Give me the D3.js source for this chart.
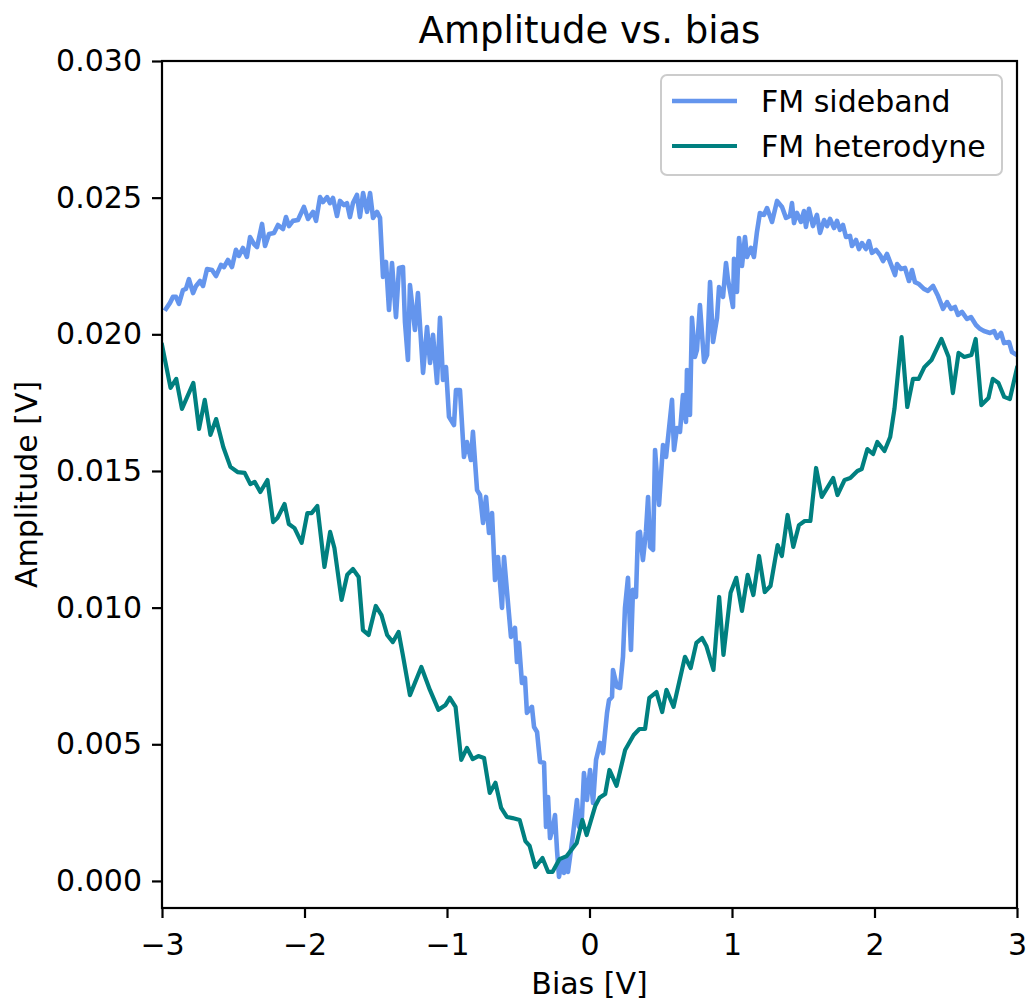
<!DOCTYPE html>
<html>
  <head>
    <meta charset="utf-8">
    <title>Amplitude vs. bias</title>
    <script src="https://d3js.org/d3.v7.min.js"></script>
    <style>
      body { margin: 0; background: #fff; }
      svg { display: block; }
      text { font-family: "DejaVu Sans", sans-serif; fill: #000; }
      .tick line { stroke: #000; stroke-width: 2.2px; }
      .line { fill: none; stroke-linejoin: round; stroke-linecap: square; }
    </style>
  </head>
  <body>
    <script>

      // bias [V], amplitude [V]
      var sideband = [
        [-2.972,0.02093],[-2.944,0.02115],[-2.923,0.02137],[-2.902,0.02137],[-2.881,0.02111],[-2.853,0.02162],[-2.832,0.02166],[-2.811,0.02202],[-2.782,0.02151],[-2.761,0.02177],
        [-2.733,0.02195],[-2.712,0.02177],[-2.684,0.02239],[-2.649,0.02235],[-2.621,0.02213],[-2.586,0.02254],[-2.565,0.02246],[-2.537,0.02272],[-2.509,0.02246],[-2.481,0.02309],
        [-2.460,0.02287],[-2.432,0.02316],[-2.404,0.02283],[-2.382,0.02356],[-2.354,0.02330],[-2.333,0.02319],[-2.298,0.02404],[-2.277,0.02323],[-2.249,0.02367],[-2.214,0.02371],
        [-2.186,0.02400],[-2.151,0.02385],[-2.130,0.02429],[-2.109,0.02396],[-2.081,0.02415],[-2.046,0.02418],[-2.004,0.02466],[-1.975,0.02422],[-1.940,0.02448],[-1.919,0.02415],
        [-1.891,0.02502],[-1.870,0.02484],[-1.842,0.02502],[-1.821,0.02480],[-1.800,0.02499],[-1.772,0.02433],[-1.751,0.02488],[-1.723,0.02473],[-1.702,0.02480],[-1.681,0.02429],
        [-1.660,0.02480],[-1.632,0.02510],[-1.611,0.02429],[-1.589,0.02517],[-1.561,0.02448],[-1.540,0.02517],[-1.519,0.02426],[-1.491,0.02448],[-1.470,0.02426],[-1.449,0.02210],
        [-1.428,0.02265],[-1.407,0.02089],[-1.386,0.02261],[-1.358,0.02063],[-1.337,0.02243],[-1.309,0.02246],[-1.295,0.02045],[-1.274,0.01906],[-1.260,0.02180],[-1.225,0.02016],
        [-1.204,0.02151],[-1.168,0.01859],[-1.140,0.02027],[-1.119,0.01895],[-1.098,0.01998],[-1.070,0.01822],[-1.049,0.02060],[-1.028,0.01833],[-1.007,0.01880],[-0.986,0.01698],
        [-0.951,0.01668],[-0.937,0.01796],[-0.909,0.01796],[-0.881,0.01551],[-0.860,0.01606],[-0.832,0.01540],[-0.818,0.01643],[-0.789,0.01430],[-0.768,0.01412],[-0.747,0.01310],
        [-0.726,0.01405],[-0.705,0.01273],[-0.684,0.01346],[-0.663,0.01101],[-0.642,0.01185],[-0.614,0.00999],[-0.600,0.01185],[-0.572,0.01017],[-0.551,0.00893],[-0.523,0.00926],
        [-0.509,0.00801],[-0.495,0.00871],[-0.474,0.00724],[-0.453,0.00743],[-0.439,0.00615],[-0.404,0.00637],[-0.389,0.00563],[-0.368,0.00545],[-0.347,0.00435],[-0.319,0.00432],
        [-0.305,0.00198],[-0.291,0.00307],[-0.277,0.00157],[-0.256,0.00198],[-0.242,0.00241],[-0.228,0.00113],[-0.214,0.00015],[-0.193,0.00077],[-0.179,0.00029],[-0.165,0.00077],
        [-0.151,0.00033],[-0.130,0.00113],[-0.116,0.00168],[-0.088,0.00296],[-0.074,0.00198],[-0.053,0.00234],[-0.039,0.00395],[-0.018,0.00296],[0.004,0.00406],[0.025,0.00285],
        [0.046,0.00443],[0.074,0.00505],[0.095,0.00468],[0.123,0.00615],[0.137,0.00662],[0.158,0.00673],[0.165,0.00772],[0.193,0.00710],[0.214,0.00706],[0.235,0.00820],
        [0.249,0.00999],[0.270,0.01109],[0.291,0.00845],[0.305,0.01065],[0.326,0.01039],[0.340,0.01273],[0.354,0.01277],[0.375,0.01174],[0.396,0.01277],[0.411,0.01405],
        [0.425,0.01222],[0.446,0.01211],[0.460,0.01577],[0.488,0.01376],[0.516,0.01595],[0.537,0.01551],[0.579,0.01760],[0.593,0.01577],[0.614,0.01657],[0.635,0.01643],
        [0.656,0.01778],[0.677,0.01679],[0.684,0.01869],[0.705,0.01705],[0.719,0.02060],[0.740,0.01917],[0.754,0.01943],[0.775,0.02107],[0.804,0.01899],[0.825,0.01924],
        [0.846,0.02191],[0.867,0.01972],[0.895,0.02060],[0.909,0.02173],[0.937,0.02137],[0.958,0.02261],[0.972,0.02199],[1.007,0.02100],[1.014,0.02276],[1.035,0.02155],
        [1.049,0.02352],[1.070,0.02250],[1.091,0.02356],[1.105,0.02283],[1.133,0.02316],[1.154,0.02283],[1.175,0.02374],[1.196,0.02444],[1.225,0.02437],[1.246,0.02462],
        [1.281,0.02411],[1.316,0.02488],[1.351,0.02466],[1.379,0.02426],[1.407,0.02433],[1.421,0.02480],[1.435,0.02407],[1.456,0.02444],[1.484,0.02411],[1.505,0.02451],
        [1.519,0.02393],[1.540,0.02459],[1.568,0.02396],[1.596,0.02437],[1.618,0.02371],[1.646,0.02418],[1.667,0.02396],[1.688,0.02422],[1.716,0.02389],[1.737,0.02415],
        [1.758,0.02382],[1.779,0.02400],[1.800,0.02356],[1.828,0.02360],[1.842,0.02323],[1.870,0.02345],[1.891,0.02312],[1.912,0.02334],[1.940,0.02312],[1.961,0.02341],
        [1.982,0.02298],[2.011,0.02309],[2.039,0.02290],[2.060,0.02268],[2.088,0.02294],[2.109,0.02265],[2.144,0.02217],[2.158,0.02257],[2.186,0.02239],[2.214,0.02243],
        [2.242,0.02195],[2.263,0.02235],[2.284,0.02191],[2.312,0.02184],[2.347,0.02166],[2.375,0.02159],[2.411,0.02177],[2.446,0.02140],[2.481,0.02093],[2.509,0.02118],
        [2.537,0.02093],[2.565,0.02100],[2.586,0.02071],[2.614,0.02082],[2.649,0.02056],[2.677,0.02063],[2.712,0.02034],[2.740,0.02020],[2.768,0.02012],[2.811,0.02005],
        [2.839,0.02012],[2.860,0.01987],[2.888,0.02005],[2.909,0.01968],[2.944,0.01972],[2.965,0.01935],[3.000,0.01924]
      ];

      var heterodyne = [
        [-3.00,0.01961],[-2.94,0.01804],[-2.90,0.01837],[-2.86,0.01727],[-2.78,0.01822],[-2.74,0.01654],[-2.70,0.01760],[-2.66,0.01632],[-2.62,0.01690],[-2.57,0.01588],
        [-2.52,0.01515],[-2.47,0.01496],[-2.42,0.01493],[-2.38,0.01452],[-2.35,0.01460],[-2.31,0.01423],[-2.26,0.01467],[-2.22,0.01313],[-2.19,0.01328],[-2.14,0.01379],
        [-2.11,0.01306],[-2.07,0.01291],[-2.02,0.01237],[-1.98,0.01346],[-1.95,0.01346],[-1.91,0.01372],[-1.86,0.01149],[-1.82,0.01277],[-1.79,0.01218],[-1.74,0.01028],
        [-1.70,0.01120],[-1.66,0.01141],[-1.62,0.01112],[-1.59,0.00918],[-1.55,0.00900],[-1.50,0.01006],[-1.46,0.00973],[-1.42,0.00900],[-1.38,0.00874],[-1.34,0.00911],
        [-1.31,0.00827],[-1.26,0.00680],[-1.18,0.00783],[-1.12,0.00699],[-1.06,0.00626],[-1.01,0.00644],[-0.98,0.00670],[-0.94,0.00637],[-0.90,0.00443],[-0.86,0.00487],
        [-0.82,0.00446],[-0.78,0.00457],[-0.74,0.00450],[-0.70,0.00322],[-0.66,0.00359],[-0.62,0.00267],[-0.58,0.00234],[-0.54,0.00230],[-0.49,0.00223],[-0.45,0.00146],
        [-0.42,0.00128],[-0.38,0.00051],[-0.33,0.00084],[-0.29,0.00033],[-0.26,0.00033],[-0.21,0.00080],[-0.16,0.00091],[-0.09,0.00139],[-0.05,0.00223],[-0.02,0.00168],
        [0.04,0.00274],[0.07,0.00304],[0.11,0.00318],[0.14,0.00406],[0.19,0.00348],[0.25,0.00479],[0.31,0.00534],[0.35,0.00556],[0.39,0.00556],[0.42,0.00670],
        [0.47,0.00691],[0.51,0.00618],[0.54,0.00699],[0.59,0.00637],[0.67,0.00820],[0.71,0.00779],[0.75,0.00871],[0.79,0.00889],[0.82,0.00860],[0.87,0.00772],
        [0.91,0.01039],[0.94,0.00827],[0.99,0.01054],[1.03,0.01109],[1.07,0.00988],[1.11,0.01120],[1.15,0.01046],[1.19,0.01189],[1.23,0.01057],[1.27,0.01079],
        [1.32,0.01229],[1.35,0.01189],[1.39,0.01339],[1.43,0.01222],[1.47,0.01302],[1.51,0.01317],[1.55,0.01317],[1.59,0.01511],[1.63,0.01405],[1.71,0.01474],
        [1.74,0.01412],[1.79,0.01467],[1.83,0.01474],[1.88,0.01500],[1.91,0.01507],[1.95,0.01580],[1.99,0.01562],[2.02,0.01606],[2.07,0.01573],[2.11,0.01624],
        [2.14,0.01727],[2.19,0.01990],[2.23,0.01734],[2.27,0.01837],[2.31,0.01837],[2.35,0.01880],[2.40,0.01906],[2.47,0.01983],[2.52,0.01917],[2.55,0.01785],
        [2.59,0.01932],[2.63,0.01917],[2.68,0.01924],[2.71,0.01983],[2.75,0.01741],[2.80,0.01767],[2.83,0.01837],[2.87,0.01822],[2.91,0.01771],[2.95,0.01763],
        [3.00,0.01877]
      ];

      var xTicks = [-3, -2, -1, 0, 1, 2, 3];
      var yTicks = [0, 0.005, 0.010, 0.015, 0.020, 0.025, 0.030];
      var seriesNames = ["FM sideband", "FM heterodyne"];
      var seriesColors = ["cornflowerblue", "teal"];
      var seriesWidths = [4.6, 4.2];

      var width = 1027,
          height = 1001;

      var margin = {left: 162, right: 10, top: 61, bottom: 93};

      var x = d3.scaleLinear()
          .domain([-3, 3])
          .range([margin.left, width - margin.right]);

      var y = d3.scaleLinear()
          .domain([-0.00099, 0.030])
          .range([height - margin.bottom, margin.top]);

      var svg = d3.select("body").append("svg")
          .attr("width", width)
          .attr("height", height);

      svg.append("defs").append("clipPath")
          .attr("id", "plot-clip")
        .append("rect")
          .attr("x", x.range()[0])
          .attr("y", y.range()[1])
          .attr("width", x.range()[1] - x.range()[0])
          .attr("height", y.range()[0] - y.range()[1]);

      var line = d3.line()
          .x(function(d) { return x(d[0]); })
          .y(function(d) { return y(d[1]); });

      svg.selectAll(".line")
          .data([sideband, heterodyne])
          .enter().append("path")
          .attr("class", "line")
          .attr("clip-path", "url(#plot-clip)")
          .attr("stroke", function(d, i) { return seriesColors[i]; })
          .attr("stroke-width", function(d, i) { return seriesWidths[i]; })
          .attr("d", line);

      // axes
      var minus = function(d) { return d < 0 ? "\u2212" + Math.abs(d) : String(d); };

      var xAxis = svg.append("g")
          .attr("transform", "translate(0," + y.range()[0] + ")")
          .call(d3.axisBottom(x).tickValues(xTicks).tickSize(10).tickPadding(15.7).tickFormat(minus));

      var yAxis = svg.append("g")
          .attr("transform", "translate(" + x.range()[0] + ",0)")
          .call(d3.axisLeft(y).tickValues(yTicks).tickSize(10).tickPadding(10).tickFormat(d3.format(".3f")));

      [xAxis, yAxis].forEach(function(g) {
        g.select(".domain").remove();
        g.attr("font-size", 30).attr("font-family", "DejaVu Sans, sans-serif");
      });

      // frame
      svg.append("rect")
          .attr("x", x.range()[0])
          .attr("y", y.range()[1])
          .attr("width", x.range()[1] - x.range()[0])
          .attr("height", y.range()[0] - y.range()[1])
          .attr("fill", "none")
          .attr("stroke", "#000")
          .attr("stroke-width", 2.2);

      var cx = (x.range()[0] + x.range()[1]) / 2;

      svg.append("text")
          .attr("x", cx)
          .attr("y", 43)
          .attr("text-anchor", "middle")
          .attr("font-size", 37)
          .text("Amplitude vs. bias");

      svg.append("text")
          .attr("x", cx)
          .attr("y", 994)
          .attr("text-anchor", "middle")
          .attr("font-size", 30)
          .text("Bias [V]");

      svg.append("text")
          .attr("transform", "translate(37," + (y.range()[0] + y.range()[1]) / 2 + ") rotate(-90)")
          .attr("text-anchor", "middle")
          .attr("font-size", 30)
          .text("Amplitude [V]");

      // legend
      var legend = svg.append("g");

      legend.append("rect")
          .attr("x", 661)
          .attr("y", 75)
          .attr("width", 341)
          .attr("height", 100)
          .attr("rx", 6)
          .attr("fill", "#fff")
          .attr("fill-opacity", 0.8)
          .attr("stroke", "#cccccc")
          .attr("stroke-width", 2);

      var items = legend.selectAll(".item")
          .data(seriesNames)
          .enter().append("g")
          .attr("class", "item")
          .attr("transform", function(d, i) { return "translate(0," + (101 + i * 45) + ")"; });

      items.append("line")
          .attr("x1", 672)
          .attr("x2", 737)
          .attr("stroke", function(d, i) { return seriesColors[i]; })
          .attr("stroke-width", function(d, i) { return seriesWidths[i]; });

      items.append("text")
          .attr("x", 761)
          .attr("y", 11)
          .attr("font-size", 30)
          .text(function(d) { return d; });

    </script>
  </body>
</html>
